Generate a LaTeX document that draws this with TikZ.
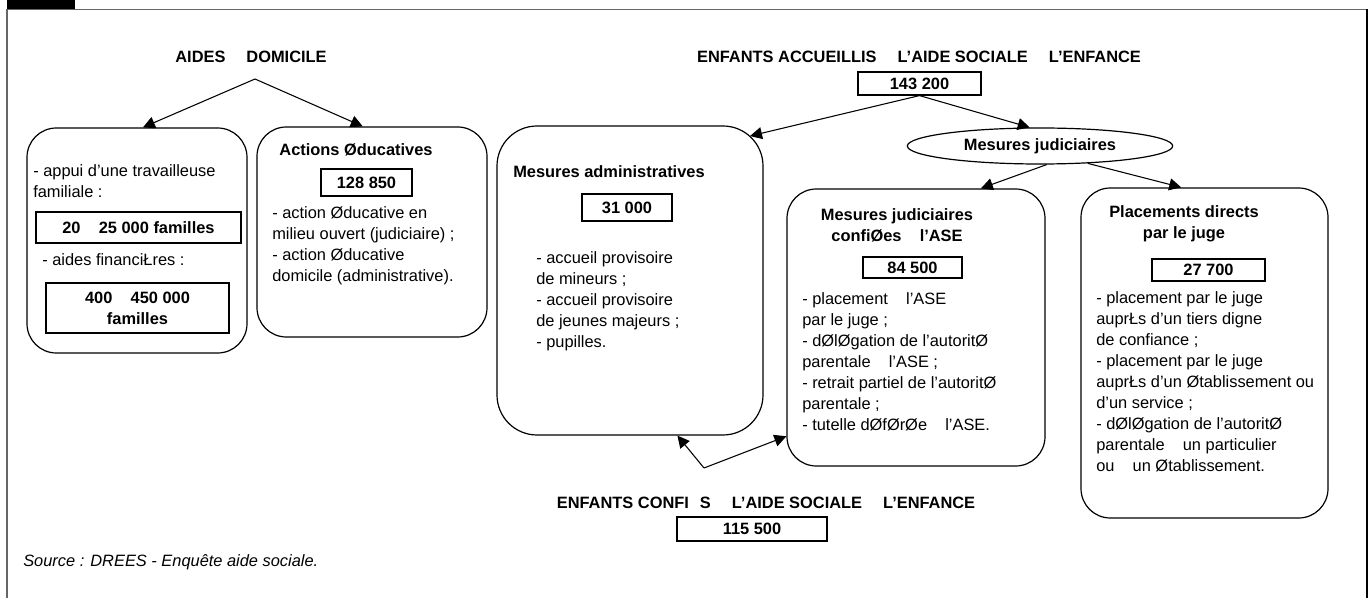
\documentclass[tikz,border=0pt]{standalone}
\usepackage{fontspec}
\setmainfont{Liberation Sans}
\usetikzlibrary{fit,shapes.geometric,arrows.meta}
\newcommand\basefont{\fontsize{12.3}{15.75}\selectfont}
\newcommand\blankA{\hspace{1.28em}}
\newcommand\blanka{\hspace{1.11em}}
\newcommand\blankE{\hspace{0.667em}}
\tikzset{
  rbox/.style={draw, line width=0.9pt, rounded corners=22pt, inner sep=0pt},
  numbox/.style={draw, line width=0.9pt, inner sep=0pt, align=center, font=\basefont\bfseries},
  ttl/.style={inner sep=0pt, align=center, font=\basefont\bfseries},
  bodytxt/.style={inner sep=0pt, anchor=west, align=left, font=\basefont},
  arr/.style={-{Triangle[length=9pt,width=9pt]}, line width=0.8pt}
}
\begin{document}
\begin{tikzpicture}[x=0.75pt,y=-0.75pt]
  \useasboundingbox (0,0) rectangle (1372,598);
  \fill (7,0) rectangle (75,9);
  \draw[black!60, line width=1.1pt] (7,598) -- (7,9.5) -- (1367,9.5);
  \draw[line width=1pt] (1367,9.5) -- (1367,598);

  \node[ttl] (aid) at (251,57) {AIDES\blankA DOMICILE};
  \coordinate (aidtop) at (255,79);
  \node[rbox, fit={(27,128) (247,353)}] (famil) {};
  \node[rbox, fit={(257,127) (487,337)}] (educ) {};
  \draw[arr] (aidtop) -- (famil.87);
  \draw[arr] (aidtop) -- (educ.95);

  \node[bodytxt] (famtxt) at (33,181) {- appui d’une travailleuse\\familiale :};
  \node[numbox, minimum width=153.75pt, minimum height=23.25pt] (famnum) at (138.5,227.5) {20\blanka 25 000 familles};
  \node[bodytxt] (fintxt) at (42,260) {- aides financiŁres :};
  \node[numbox, minimum width=137.25pt, minimum height=37.5pt] (finnum) at (137.5,308) {400\blanka 450 000\\familles};

  \node[ttl] (eductl) at (356,150) {Actions Øducatives};
  \node[numbox, minimum width=68.25pt, minimum height=20.25pt] (educnum) at (366.5,182.5) {128 850};
  \node[bodytxt] (eductxt) at (272,245.5) {- action Øducative en\\milieu ouvert (judiciaire) ;\\- action Øducative\\domicile (administrative).};

  \node[ttl] (acc) at (919,57) {ENFANTS ACCUEILLIS\blankA L’AIDE SOCIALE\blankA L’ENFANCE};
  \node[numbox, minimum width=92.25pt, minimum height=17.25pt] (accnum) at (919.5,83.5) {143 200};
  \node[rbox, rounded corners=30pt, fit={(497,126) (763,435)}] (adm) {};
  \node[ellipse, draw, line width=0.9pt, minimum width=199pt, minimum height=27pt, inner sep=0pt,
        font=\basefont\bfseries] (mjud) at (1040,146) {Mesures judiciaires};
  \coordinate (admtip) at (750,136);
  \draw[arr] (accnum.south) -- (admtip);
  \draw[arr] (accnum.south) -- (mjud.119);

  \node[ttl, anchor=west] (admttl) at (513,172) {Mesures administratives};
  \node[numbox, minimum width=67.5pt, minimum height=20.25pt] (admnum) at (627,207.5) {31 000};
  \node[bodytxt] (admtxt) at (536,301) {- accueil provisoire\\de mineurs ;\\- accueil provisoire\\de jeunes majeurs ;\\- pupilles.};

  \node[rbox, fit={(787,189) (1045,466)}] (conf) {};
  \node[rbox, fit={(1081,188) (1328,518)}] (plac) {};
  \draw[arr] (mjud.-70) -- (conf.65);
  \draw[arr] (mjud.-20) -- (plac.98);

  \node[ttl] (confttl) at (897,225.5) {Mesures judiciaires\\confiØes\blanka l’ASE};
  \node[numbox, minimum width=74.25pt, minimum height=15.75pt] (confnum) at (912.5,267.5) {84 500};
  \node[bodytxt] (conftxt) at (802,362) {- placement\blanka l’ASE\\par le juge ;\\- dØlØgation de l’autoritØ\\parentale\blanka l’ASE ;\\- retrait partiel de l’autoritØ\\parentale ;\\- tutelle dØfØrØe\blanka l’ASE.};

  \node[ttl] (placttl) at (1184,224) {Placements directs\\par le juge};
  \node[numbox, minimum width=84.75pt, minimum height=16.5pt] (placnum) at (1208.5,270) {27 700};
  \node[bodytxt] (plactxt) at (1096,382) {- placement par le juge\\auprŁs d’un tiers digne\\de confiance ;\\- placement par le juge\\auprŁs d’un Øtablissement ou\\d’un service ;\\- dØlØgation de l’autoritØ\\parentale\blanka un particulier\\ou\blanka un Øtablissement.};

  \coordinate (ctop) at (704,468);
  \draw[arr] (ctop) -- (adm.-73);
  \draw[arr] (ctop) -- (conf.220);
  \node[ttl] (conft) at (766,503) {ENFANTS CONFI\blankE S\blankA L’AIDE SOCIALE\blankA L’ENFANCE};
  \node[numbox, minimum width=112.5pt, minimum height=18pt] (totnum) at (752,529) {115 500};

  \node[bodytxt, font=\basefont\itshape] (src) at (23,562) {Source : DREES - Enquête aide sociale.};
\end{tikzpicture}
\end{document}
